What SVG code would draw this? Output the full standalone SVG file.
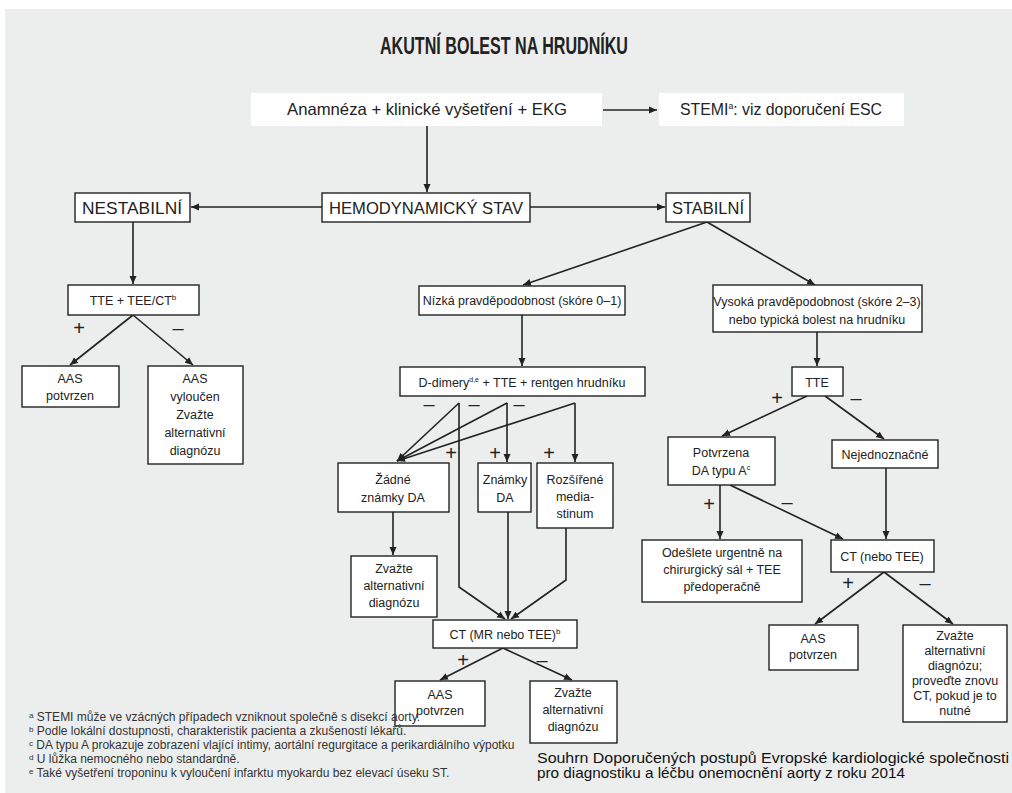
<svg xmlns="http://www.w3.org/2000/svg" width="1012" height="793" viewBox="0 0 1012 793">
<defs>
<marker id="ah" markerUnits="userSpaceOnUse" markerWidth="9" markerHeight="8" refX="8" refY="4" orient="auto"><path d="M0,0.5 L8,4 L0,7.5 z" fill="#222"/></marker>
<style>
.bx{fill:#fff;stroke:#222;stroke-width:1.4}
.nb{fill:#fff}
.t{font-family:"Liberation Sans Narrow","Liberation Sans",sans-serif;fill:#222;text-anchor:middle;font-size:12.5px}
.h{font-size:16.5px}
.pm{font-family:"Liberation Sans",sans-serif;fill:#222;text-anchor:middle;font-size:20px}
.fn{font-family:"Liberation Sans Narrow","Liberation Sans",sans-serif;fill:#333;font-size:12px}
.src{font-family:"Liberation Sans",sans-serif;fill:#111;font-size:15px}
.c{fill:none;stroke:#222;stroke-width:1.6}
.a{marker-end:url(#ah)}
</style>
</defs>
<rect x="0" y="0" width="1012" height="793" fill="#fff"/>
<rect x="5" y="9" width="1007" height="784" fill="#eceeed"/>
<text x="504" y="54" class="t" style="font-size:23px;font-weight:bold" textLength="248" lengthAdjust="spacingAndGlyphs">AKUTNÍ BOLEST NA HRUDNÍKU</text>

<g id="connectors">
<path class="c a" d="M603,110 L657,110"/>
<path class="c a" d="M427,126 L427,192"/>
<path class="c a" d="M530,207 L665,207"/>
<path class="c a" d="M322,207 L191,207"/>
<path class="c a" d="M133,222 L133,284"/>
<path class="c a" d="M133,315 L70,365"/>
<path class="c a" d="M133,315 L193,365"/>
<path class="c a" d="M707,222 L523,285"/>
<path class="c a" d="M707,222 L815,285"/>
<path class="c a" d="M522,315 L522,366"/>
<path class="c a" d="M817,332 L817,366"/>
<path class="c a" d="M807,396 L722,436"/>
<path class="c a" d="M825,396 L884,439"/>
<path class="c a" d="M459,403 L397,461"/>
<path class="c a" d="M507,403 L397,461"/>
<path class="c a" d="M575,403 L397,461"/>
<path class="c a" d="M507,403 L507,462"/>
<path class="c a" d="M575,403 L575,462"/>
<path class="c a" d="M459,403 L459,587 L505,619"/>
<path class="c a" d="M393,512 L393,555"/>
<path class="c a" d="M508,512 L508,619"/>
<path class="c a" d="M566,528 L566,580 L511,619"/>
<path class="c a" d="M503,648 L440,680"/>
<path class="c a" d="M503,648 L572,680"/>
<path class="c a" d="M720,485 L720,539"/>
<path class="c a" d="M730,485 L843,539"/>
<path class="c a" d="M886,468 L886,539"/>
<path class="c a" d="M884,572 L815,624"/>
<path class="c a" d="M884,572 L953,624"/>
</g>

<g id="labels">
<text class="pm" x="79" y="335">+</text><text class="pm" x="178" y="335">–</text>
<text class="pm" x="429" y="411">–</text><text class="pm" x="474" y="411">–</text><text class="pm" x="519" y="411">–</text>
<text class="pm" x="451" y="460">+</text><text class="pm" x="495" y="460">+</text><text class="pm" x="549" y="460">+</text>
<text class="pm" x="777" y="405">+</text><text class="pm" x="856" y="405">–</text>
<text class="pm" x="709" y="511">+</text><text class="pm" x="787" y="509">–</text>
<text class="pm" x="848" y="590">+</text><text class="pm" x="925" y="590">–</text>
<text class="pm" x="463" y="667">+</text><text class="pm" x="542" y="667">–</text>
</g>

<g id="anamneza"><rect class="nb" x="251" y="93" width="351" height="33"/><text class="t h" x="427" y="115" textLength="280" lengthAdjust="spacingAndGlyphs">Anamnéza + klinické vyšetření + EKG</text></g>
<g id="stemi"><rect class="nb" x="659" y="93" width="245" height="33"/><text class="t h" x="781" y="115" textLength="202" lengthAdjust="spacingAndGlyphs">STEMI<tspan font-size="9" dy="-6">a</tspan><tspan dy="6">: viz doporučení ESC</tspan></text></g>
<g id="hemo"><rect class="bx" x="322" y="193" width="208" height="29"/><text class="t h" x="426" y="214" textLength="194" lengthAdjust="spacingAndGlyphs">HEMODYNAMICKÝ STAV</text></g>
<g id="nestabilni"><rect class="bx" x="75" y="193" width="115" height="29"/><text class="t h" x="132" y="214" textLength="100" lengthAdjust="spacingAndGlyphs">NESTABILNÍ</text></g>
<g id="stabilni"><rect class="bx" x="666" y="193" width="84" height="29"/><text class="t h" x="708" y="214" textLength="72" lengthAdjust="spacingAndGlyphs">STABILNÍ</text></g>

<g id="tte-tee"><rect class="bx" x="68" y="285" width="131" height="30"/><text class="t" x="133" y="305">TTE + TEE/CT<tspan font-size="8" dy="-5">b</tspan></text></g>
<g id="aas1"><rect class="bx" x="22" y="366" width="97" height="41"/><text class="t" x="70" y="383">AAS</text><text class="t" x="70" y="400">potvrzen</text></g>
<g id="aas-vyloucen"><rect class="bx" x="148" y="366" width="95" height="98"/><text class="t" x="195" y="383">AAS</text><text class="t" x="195" y="401">vyloučen</text><text class="t" x="195" y="419">Zvažte</text><text class="t" x="195" y="437">alternativní</text><text class="t" x="195" y="455">diagnózu</text></g>

<g id="nizka"><rect class="bx" x="419" y="286" width="206" height="29"/><text class="t" x="522" y="305">Nízká pravděpodobnost (skóre 0–1)</text></g>
<g id="vysoka"><rect class="bx" x="713" y="285" width="209" height="47"/><text class="t" x="817" y="306">Vysoká pravděpodobnost (skóre 2–3)</text><text class="t" x="817" y="324">nebo typická bolest na hrudníku</text></g>
<g id="ddimery"><rect class="bx" x="400" y="367" width="245" height="29"/><text class="t" x="522" y="387">D-dimery<tspan font-size="7" dy="-5">d,e</tspan><tspan dy="5"> + TTE + rentgen hrudníku</tspan></text></g>
<g id="tte"><rect class="bx" x="792" y="367" width="51" height="29"/><text class="t" x="817" y="387">TTE</text></g>

<g id="zadne"><rect class="bx" x="338" y="463" width="111" height="49"/><text class="t" x="393" y="484">Žádné</text><text class="t" x="393" y="502">známky DA</text></g>
<g id="znamky"><rect class="bx" x="478" y="463" width="53" height="49"/><text class="t" x="505" y="484">Známky</text><text class="t" x="505" y="502">DA</text></g>
<g id="rozsirene"><rect class="bx" x="537" y="463" width="76" height="65"/><text class="t" x="575" y="484">Rozšířené</text><text class="t" x="575" y="501">media-</text><text class="t" x="575" y="518">stinum</text></g>
<g id="zvazte1"><rect class="bx" x="351" y="556" width="86" height="61"/><text class="t" x="394" y="573">Zvažte</text><text class="t" x="394" y="590">alternativní</text><text class="t" x="394" y="607">diagnózu</text></g>
<g id="ct-mr"><rect class="bx" x="433" y="620" width="144" height="28"/><text class="t" x="505" y="639">CT (MR nebo TEE)<tspan font-size="8" dy="-5">b</tspan></text></g>
<g id="aas2"><rect class="bx" x="395" y="681" width="90" height="45"/><text class="t" x="440" y="699">AAS</text><text class="t" x="440" y="715">potvrzen</text></g>
<g id="zvazte2"><rect class="bx" x="530" y="681" width="87" height="62"/><text class="t" x="573" y="697">Zvažte</text><text class="t" x="573" y="714">alternativní</text><text class="t" x="573" y="731">diagnózu</text></g>

<g id="potvrzena"><rect class="bx" x="668" y="437" width="107" height="48"/><text class="t" x="721" y="457">Potvrzena</text><text class="t" x="721" y="475">DA typu A<tspan font-size="7" dy="-5">c</tspan></text></g>
<g id="nejednoznacne"><rect class="bx" x="832" y="440" width="106" height="28"/><text class="t" x="885" y="459">Nejednoznačné</text></g>
<g id="odeslete"><rect class="bx" x="642" y="540" width="160" height="62"/><text class="t" x="722" y="557">Odešlete urgentně na</text><text class="t" x="722" y="574">chirurgický sál + TEE</text><text class="t" x="722" y="591">předoperačně</text></g>
<g id="ct-tee"><rect class="bx" x="831" y="540" width="103" height="32"/><text class="t" x="882" y="561">CT (nebo TEE)</text></g>
<g id="aas3"><rect class="bx" x="769" y="625" width="89" height="45"/><text class="t" x="813" y="643">AAS</text><text class="t" x="813" y="659">potvrzen</text></g>
<g id="zvazte3"><rect class="bx" x="903" y="625" width="104" height="97"/><text class="t" x="955" y="640">Zvažte</text><text class="t" x="955" y="655">alternativní</text><text class="t" x="955" y="670">diagnózu;</text><text class="t" x="955" y="685">proveďte znovu</text><text class="t" x="955" y="700">CT, pokud je to</text><text class="t" x="955" y="715">nutné</text></g>

<g id="footnotes">
<text class="fn" x="29" y="721"><tspan font-size="8" dy="-3">a</tspan><tspan dy="3"> STEMI může ve vzácných případech vzniknout společně s disekcí aorty.</tspan></text>
<text class="fn" x="29" y="735"><tspan font-size="8" dy="-3">b</tspan><tspan dy="3"> Podle lokální dostupnosti, charakteristik pacienta a zkušeností lékařů.</tspan></text>
<text class="fn" x="29" y="749"><tspan font-size="8" dy="-3">c</tspan><tspan dy="3"> DA typu A prokazuje zobrazení vlající intimy, aortální regurgitace a perikardiálního výpotku</tspan></text>
<text class="fn" x="29" y="763"><tspan font-size="8" dy="-3">d</tspan><tspan dy="3"> U lůžka nemocného nebo standardně.</tspan></text>
<text class="fn" x="29" y="777"><tspan font-size="8" dy="-3">e</tspan><tspan dy="3"> Také vyšetření troponinu k vyloučení infarktu myokardu bez elevací úseku ST.</tspan></text>
</g>
<text class="src" x="537" y="763" textLength="472" lengthAdjust="spacingAndGlyphs">Souhrn Doporučených postupů Evropské kardiologické společnosti</text>
<text class="src" x="537" y="778" textLength="368" lengthAdjust="spacingAndGlyphs">pro diagnostiku a léčbu onemocnění aorty z roku 2014</text>
</svg>
